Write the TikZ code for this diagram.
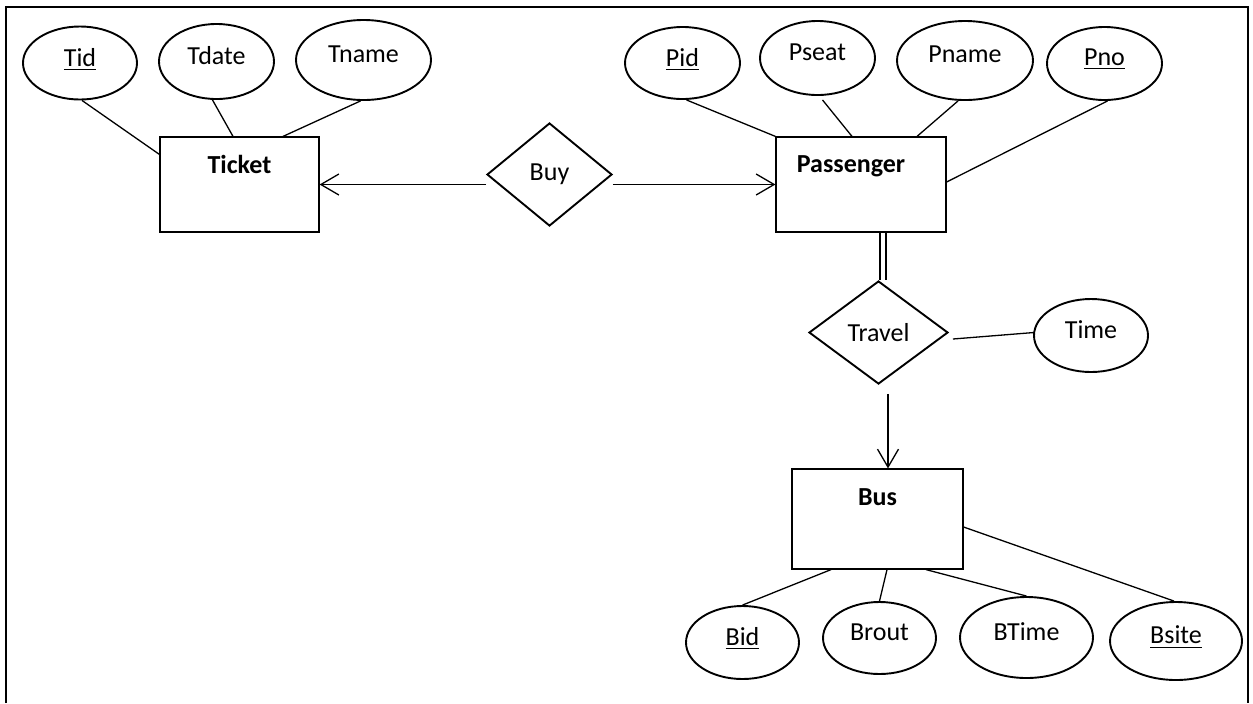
\documentclass[tikz,border=0pt]{standalone}
\usepackage{fontspec}
\setmainfont{Carlito}
\usetikzlibrary{shapes.geometric,arrows.meta,calc}
\newcommand\attxt[1]{\raisebox{6pt}{#1}}
\newcommand\enttxt[2]{\raisebox{#1}{#2}}
\tikzset{
  attr/.style={ellipse, draw, line width=0.95pt, inner sep=0pt, font=\fontsize{13}{15}\selectfont},
  ent/.style={rectangle, draw, line width=0.6pt, inner sep=0pt, font=\fontsize{13}{15}\selectfont\bfseries},
  rel/.style={diamond, draw, line width=0.95pt, inner sep=0pt, font=\fontsize{13}{15}\selectfont},
  conn/.style={line width=0.65pt},
  arr/.style={conn, -{Straight Barb[length=9pt,width=10.5pt]}},
  frame/.style={line width=0.7pt}
}
\begin{document}
\begin{tikzpicture}[x=0.5pt,y=-0.5pt]
\useasboundingbox (0,0) rectangle (1253,703);
\draw[frame] (6,703) -- (6,7) -- (1248,7) -- (1248,703);

% entities
\node[ent, minimum width=79.5pt, minimum height=47.5pt] (Ticket) at (239.5,184.5) {\enttxt{20pt}{Ticket}};
\node[ent, minimum width=85pt, minimum height=47.5pt] (Passenger) at (861,184.5) {\enttxt{20pt}{Passenger}\hspace*{10pt}};
\node[ent, minimum width=85.5pt, minimum height=50pt] (Bus) at (877.5,519) {\enttxt{22pt}{Bus}};

% relationships
\node[rel, minimum width=62.5pt, minimum height=51.5pt] (Buy) at (549.5,174.5) {Buy};
\node[rel, minimum width=69.5pt, minimum height=51.5pt] (Travel) at (878.5,332.5) {Travel};

% attributes
\node[attr, minimum width=57pt, minimum height=36.5pt] (Tid) at (80,63) {\attxt{\underline{Tid}}};
\node[attr, minimum width=57.5pt, minimum height=37.5pt] (Tdate) at (216.5,61.5) {\attxt{Tdate}};
\node[attr, minimum width=67.5pt, minimum height=40pt] (Tname) at (363.5,60) {\attxt{Tname}};
\node[attr, minimum width=57.5pt, minimum height=36pt] (Pid) at (682.5,63) {\attxt{\underline{Pid}}};
\node[attr, minimum width=57.5pt, minimum height=37pt] (Pseat) at (817.5,58) {\attxt{Pseat}};
\node[attr, minimum width=68pt, minimum height=39.5pt] (Pname) at (965,60.5) {\attxt{Pname}};
\node[attr, minimum width=57.5pt, minimum height=36.5pt] (Pno) at (1104.5,63.5) {\attxt{\underline{Pno}}};
\node[attr, minimum width=57pt, minimum height=36.5pt] (Time) at (1091,335.5) {\attxt{Time}};
\node[attr, minimum width=56.5pt, minimum height=36.5pt] (Bid) at (742.5,642.5) {\attxt{\underline{Bid}}};
\node[attr, minimum width=56.5pt, minimum height=36pt] (Brout) at (879.5,638) {\attxt{Brout}};
\node[attr, minimum width=66.5pt, minimum height=40.5pt] (BTime) at (1026.5,637.5) {\attxt{BTime}};
\node[attr, minimum width=66pt, minimum height=39pt] (Bsite) at (1176,641) {\attxt{\underline{Bsite}}};

% attribute connectors
\draw[conn] ($(Tid.south)+(2,0)$) -- ($(Ticket.north west)+(0,18)$);
\draw[conn] ($(Tdate.south)+(-4,0)$) -- ($(Ticket.north)+(-6.5,0)$);
\draw[conn] ($(Tname.south)+(-3,0)$) -- ($(Ticket.north)+(43.5,0)$);
\draw[conn] ($(Pid.south)+(4,0)$) -- (Passenger.north west);
\draw[conn] ($(Pseat.south)+(5,4)$) -- ($(Passenger.north)+(-9,0)$);
\draw[conn] ($(Pname.south)+(-7,0)$) -- ($(Passenger.north)+(56,0)$);
\draw[conn] ($(Pno.south)+(3,0)$) -- ($(Passenger.east)+(0,-2.5)$);
\draw[conn] (Bid.north) -- ($(Bus.south)+(-46.5,0)$);
\draw[conn] (Brout.north) -- ($(Bus.south)+(9.5,0)$);
\draw[conn] (BTime.north) -- ($(Bus.south)+(48.5,0)$);
\draw[conn] ($(Bsite.north)+(-2,0)$) -- ($(Bus.east)+(0,8)$);

% relationship connectors
\draw[arr] (Buy.west |- Ticket.east) -- (Ticket.east);
\draw[arr] (Buy.east |- Passenger.west) -- (Passenger.west);
\draw[conn, double, double distance=2.4pt] ([xshift=2.25pt]Travel.north) -- ([xshift=2.25pt]Travel.north |- Passenger.south);
\coordinate (tstart) at ($(Travel.south)+(9.5,9)$);
\draw[arr] (tstart) -- (tstart |- Bus.north);
\coordinate (tside) at ($(Travel.east)+(4,6.5)$);
\draw[conn] (tside) -- ($(Time.west)+(1,-3)$);
\end{tikzpicture}
\end{document}
